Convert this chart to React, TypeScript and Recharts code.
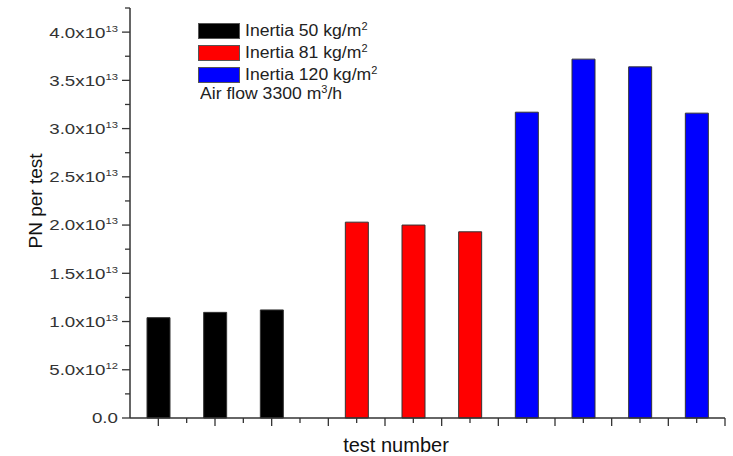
import React from 'react';
import { BarChart, Bar, Cell, XAxis, YAxis } from 'recharts';

// x positions of the tests (Origin-style: black on integers, red/blue on the half steps)
const testNumbers = [1, 2, 3, 4.5, 5.5, 6.5, 7.5, 8.5, 9.5, 10.5];

// PN per test
const inertia50 = [1.04e13, 1.095e13, 1.12e13];
const inertia81 = [2.03e13, 2.0e13, 1.93e13];
const inertia120 = [3.17e13, 3.72e13, 3.64e13, 3.16e13];

const groupColors = ['#000000', '#ff0000', '#0000ff'];
const legendLabels = ['Inertia 50 kg/m', 'Inertia 81 kg/m', 'Inertia 120 kg/m'];

const groups = [inertia50, inertia81, inertia120];
const data = groups
  .flatMap((vals, g) => vals.map((v) => ({ group: g, value: v })))
  .map((d, i) => ({ ...d, test: testNumbers[i] }));

// major + minor tick positions
const xTicks = Array.from({ length: 21 }, (_, i) => 1 + i * 0.5);
const yTicks = Array.from({ length: 18 }, (_, i) => i * 2.5e12);

const FONT = '"Liberation Sans", Arial, sans-serif';
const AXIS = '#333';

const YTick = (props: any) => {
  const { x, y, payload } = props;
  const v = payload.value as number;
  const major = Math.round(v / 2.5e12) % 2 === 0;
  let mant = '0.0';
  let exp = '';
  if (v > 0) {
    const e = Math.floor(Math.log10(v));
    mant = (v / Math.pow(10, e)).toFixed(1);
    exp = String(e);
  }
  return (
    <g>
      <line x1={x - (major ? 8 : 5)} x2={x} y1={y} y2={y} stroke={AXIS} strokeWidth={1.3} />
      {major && (
        <text
          transform={`translate(${x - 12},${y}) scale(1.25,1)`}
          textAnchor="end"
          dy="0.36em"
          fontFamily={FONT}
          fontSize={15}
          fill="#333"
        >
          {exp ? (
            <>
              {mant}x10
              <tspan dy={-6} fontSize={9}>{exp}</tspan>
            </>
          ) : (
            mant
          )}
        </text>
      )}
    </g>
  );
};

const XTick = (props: any) => {
  const { x, y, payload } = props;
  const major = Number.isInteger(payload.value);
  return <line x1={x} x2={x} y1={y} y2={y + (major ? 8 : 5)} stroke={AXIS} strokeWidth={1.3} />;
};

const Legend = () => (
  <div style={{ position: 'absolute', left: 198, top: 23, fontFamily: FONT, color: '#222' }}>
    {legendLabels.map((label, i) => (
      <div key={label} style={{ display: 'flex', alignItems: 'center', height: 16, marginBottom: 6 }}>
        <div
          style={{
            width: 42,
            height: 16,
            boxSizing: 'border-box',
            border: '1px solid #555',
            background: groupColors[i],
          }}
        />
        <div
          style={{
            marginLeft: 5,
            fontSize: 16,
            lineHeight: '16px',
            whiteSpace: 'nowrap',
            transform: 'scaleX(1.1)',
            transformOrigin: 'left center',
          }}
        >
          {label}
          <sup style={{ fontSize: 10, lineHeight: 0 }}>2</sup>
        </div>
      </div>
    ))}
    <div
      style={{
        position: 'absolute',
        left: 2,
        top: 63,
        fontSize: 16,
        lineHeight: '16px',
        whiteSpace: 'nowrap',
        transform: 'scaleX(1.1)',
        transformOrigin: 'left center',
      }}
    >
      Air flow 3300 m<sup style={{ fontSize: 10, lineHeight: 0 }}>3</sup>/h
    </div>
  </div>
);

export default function App() {
  return (
    <div style={{ position: 'absolute', left: 0, top: 0, width: 733, height: 456, background: '#fff' }}>
      <BarChart width={733} height={456} data={data} margin={{ top: 8, right: 8, bottom: 0, left: 0 }}>
        <XAxis
          dataKey="test"
          type="number"
          domain={[0.5, 11]}
          ticks={xTicks}
          interval={0}
          height={38}
          tickSize={0}
          tickMargin={0}
          tick={<XTick />}
          axisLine={{ stroke: AXIS, strokeWidth: 1.5 }}
          label={{
            content: () => (
              <text x={396} y={452} textAnchor="middle" fontFamily={FONT} fontSize={20} fill="#111">
                test number
              </text>
            ),
          }}
        />
        <YAxis
          type="number"
          domain={[0, 4.25e13]}
          ticks={yTicks}
          interval={0}
          width={130}
          tickSize={0}
          tickMargin={0}
          tick={<YTick />}
          axisLine={{ stroke: AXIS, strokeWidth: 1.5 }}
          label={{
            content: () => (
              <text
                x={35}
                y={201}
                transform="rotate(-90, 35, 201)"
                textAnchor="middle"
                dominantBaseline="central"
                fontFamily={FONT}
                fontSize={19}
                fill="#111"
              >
                PN per test
              </text>
            ),
          }}
        />
        <Bar dataKey="value" barSize={23} stroke="#333" strokeWidth={1} isAnimationActive={false}>
          {data.map((d, i) => (
            <Cell key={`cell-${i}`} fill={groupColors[d.group]} />
          ))}
        </Bar>
      </BarChart>
      <Legend />
    </div>
  );
}
